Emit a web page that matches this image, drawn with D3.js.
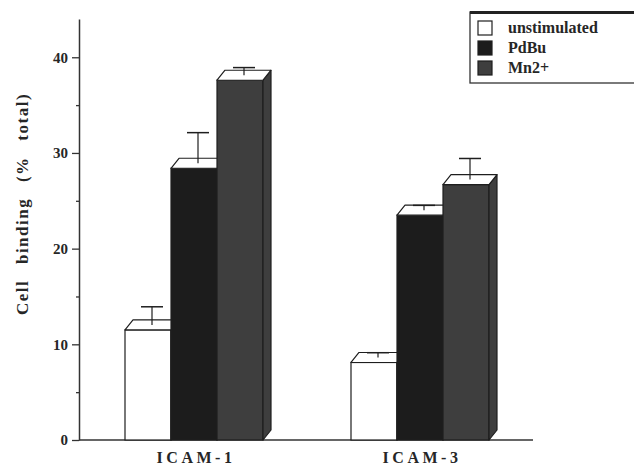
<!DOCTYPE html>
<html>
<head>
<meta charset="utf-8">
<script src="https://cdn.jsdelivr.net/npm/d3@7"></script>
<style>
  body { margin: 0; background: #fff; }
  svg { display: block; }
  text { font-family: "Liberation Serif", "Times New Roman", serif; font-weight: bold; fill: #262626; }
</style>
</head>
<body>
<svg id="chart" width="634" height="468"></svg>
<script>
// groups on the x axis and the three stimulation series
var groups = ['ICAM-1', 'ICAM-3'];
var series = ['unstimulated', 'PdBu', 'Mn2+'];

// mean cell binding (% total), per group, in series order
var means = [
    [11.5, 28.4, 37.6],
    [8.1, 23.5, 26.7]
];
// error bar (upper half only, drawn from the top face)
var errors = [
    [1.9, 3.2, 0.8],
    [0.5, 0.5, 2.2]
];

var majorTicks = [0, 10, 20, 30, 40];
var minorTicks = [5, 15, 25, 35];

var fills = ['#ffffff', '#1c1c1c', '#3e3e3e'];
var edge = '#1e1e1e';

// oblique depth of the pseudo-3D bars
var dx = 8, dy = -10;

var svg = d3.select('#chart');

var y = d3.scaleLinear().domain([0, 44]).range([440, 19]);
var xGroup = d3.scalePoint().domain(groups).range([194, 420]);
var xBar = d3.scaleBand().domain(series).range([-69, 69]).padding(0);

// axes
svg.append('g')
    .attr('transform', 'translate(79,0)')
    .call(d3.axisLeft(y).tickValues(minorTicks).tickSize(3).tickFormat(''))
    .call(function(g) { g.select('.domain').remove(); })
    .selectAll('line').attr('stroke', '#333').attr('stroke-width', 1.3);

var yAxis = svg.append('g')
    .attr('transform', 'translate(79,0)')
    .call(d3.axisLeft(y).tickValues(majorTicks).tickSize(7).tickSizeOuter(0).tickPadding(4));
yAxis.select('.domain').attr('stroke', '#333').attr('stroke-width', 1.5);
yAxis.selectAll('.tick line').attr('stroke', '#333').attr('stroke-width', 1.3);
yAxis.selectAll('.tick text')
    .style('font-size', '15px')
    .style('font-family', '"Liberation Serif", serif')
    .style('font-weight', 'bold')
    .attr('fill', '#262626');

svg.append('line')
    .attr('x1', 79).attr('x2', 533)
    .attr('y1', y(0)).attr('y2', y(0))
    .attr('stroke', '#333').attr('stroke-width', 1.5);

// bars
groups.forEach(function(grp, gi) {
    var g = svg.append('g').attr('class', 'group');
    series.forEach(function(s, si) {
        var v = means[gi][si];
        var x0 = xGroup(grp) + xBar(s);
        var w = xBar.bandwidth();
        var y0 = y(0), yv = y(v);

        // front face
        g.append('rect')
            .attr('x', x0).attr('y', yv)
            .attr('width', w).attr('height', y0 - yv)
            .attr('fill', fills[si])
            .attr('stroke', edge).attr('stroke-width', 1.2);

        // side face
        g.append('path')
            .attr('d', d3.line()([
                [x0 + w, y0], [x0 + w + dx, y0 + dy],
                [x0 + w + dx, yv + dy], [x0 + w, yv]
            ]) + 'Z')
            .attr('fill', fills[si])
            .attr('stroke', edge).attr('stroke-width', 1.2)
            .attr('stroke-linejoin', 'round');

        // top face
        g.append('path')
            .attr('d', d3.line()([
                [x0, yv], [x0 + dx, yv + dy],
                [x0 + w + dx, yv + dy], [x0 + w, yv]
            ]) + 'Z')
            .attr('fill', '#fff')
            .attr('stroke', edge).attr('stroke-width', 1.2)
            .attr('stroke-linejoin', 'round');

        // error bar from the centre of the top face
        var cx = x0 + w / 2 + dx / 2;
        var yTop = y(v + errors[gi][si]) + dy / 2;
        g.append('line')
            .attr('x1', cx).attr('x2', cx)
            .attr('y1', yv + dy / 2).attr('y2', yTop)
            .attr('stroke', edge).attr('stroke-width', 1.2);
        g.append('line')
            .attr('x1', cx - 11).attr('x2', cx + 11)
            .attr('y1', yTop).attr('y2', yTop)
            .attr('stroke', edge).attr('stroke-width', 1.5);
    });
});

// category labels
svg.selectAll('text.cat')
    .data(groups)
  .enter().append('text')
    .attr('class', 'cat')
    .attr('x', function(d) { return xGroup(d) + 2; })
    .attr('y', 463)
    .attr('text-anchor', 'middle')
    .style('font-size', '16px')
    .style('letter-spacing', '3.5px')
    .text(function(d) { return d; });

// y axis title
svg.append('text')
    .attr('transform', 'translate(28,204) rotate(-90)')
    .attr('text-anchor', 'middle')
    .style('font-size', '17px')
    .style('letter-spacing', '1.5px')
    .style('word-spacing', '10px')
    .text('Cell binding (% total)');

// legend
var legend = svg.append('g').attr('transform', 'translate(470,12)');
legend.append('rect')
    .attr('x', 0).attr('y', 0)
    .attr('width', 175).attr('height', 71)
    .attr('fill', '#fff')
    .attr('stroke', '#333').attr('stroke-width', 1.3);
legend.append('line')
    .attr('x1', 0).attr('x2', 175)
    .attr('y1', 0.5).attr('y2', 0.5)
    .attr('stroke', '#222').attr('stroke-width', 3);

var rows = legend.selectAll('g.row')
    .data(series)
  .enter().append('g')
    .attr('class', 'row')
    .attr('transform', function(d, i) { return 'translate(8,' + (9 + i * 20) + ')'; });
rows.append('rect')
    .attr('width', 14).attr('height', 14)
    .attr('fill', function(d, i) { return fills[i]; })
    .attr('stroke', edge).attr('stroke-width', 1.2);
rows.append('text')
    .attr('x', 30).attr('y', 12)
    .style('font-size', '16px')
    .text(function(d) { return d; });
</script>
</body>
</html>
